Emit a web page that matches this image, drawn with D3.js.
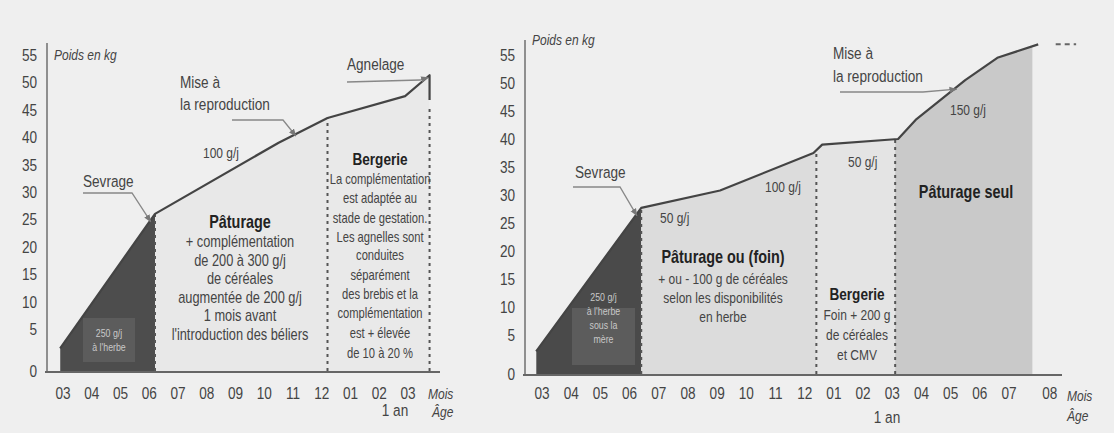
<!DOCTYPE html>
<html>
<head>
<meta charset="utf-8">
<script src="https://cdn.jsdelivr.net/npm/d3@7"></script>
<style>
    body { margin: 0; background: #efefef; }
    svg { display: block; font-family: "Liberation Sans", Arial, sans-serif; }
</style>
</head>
<body>
<svg id="chart" width="1114" height="433"></svg>
<script>
// Tick labels
var yTicks = [0, 5, 10, 15, 20, 25, 30, 35, 40, 45, 50, 55];
var leftMonths = ["03", "04", "05", "06", "07", "08", "09", "10", "11", "12", "01", "02", "03"];
var rightMonths = ["03", "04", "05", "06", "07", "08", "09", "10", "11", "12", "01", "02", "03", "04", "05", "06", "07", "08"];
var rightMonthPos = [0, 1, 2, 3, 4, 5, 6, 7, 8, 9, 10, 11, 12, 13, 14, 15, 16, 17.4];

// Left chart: weight curve (month index from March, kg)
var leftMonth = [-0.1, 3.2, 7.5, 9.2, 11.9, 12.75];
var leftKg = [2.7, 26, 39, 43.5, 47.5, 51.3];
var leftAfterLambing = 46.8;
// phase limits: sevrage, bergerie, agnelage
var leftPhases = [-0.1, 3.2, 9.2, 12.75];

// Right chart: weight curve
var rightMonth = [-0.2, 3.4, 6.1, 9.3, 9.6, 12.2, 12.8, 14.5, 15.6, 17.0];
var rightKg = [2.9, 27.7, 30.8, 37.5, 39, 40, 43.4, 50.5, 54.5, 56.9];
// phase limits: sevrage, bergerie start, bergerie end, end of fill
var rightPhases = [-0.2, 3.4, 9.4, 12.1, 16.8];
var rightTail = [17.6, 18.3];

var svg = d3.select("#chart");
var squeeze = 0.8; // condensed look of the printed font

// Scales (the 0-5 kg step is stretched, like the original)
var xL = d3.scaleLinear().domain([0, 12]).range([63, 408]);
var yL = d3.scaleLinear().domain([0, 5, 55]).range([371, 329, 55]);
var xR = d3.scaleLinear().domain([0, 16]).range([542, 1009]);
var yR = d3.scaleLinear().domain([0, 5, 55]).range([374, 335, 55]);

// weight on the curve at a given month
function kgAt(months, kgs, m) {
    var i = d3.bisectRight(months, m);
    if (i <= 0) return kgs[0];
    if (i >= months.length) return kgs[kgs.length - 1];
    var t = (m - months[i - 1]) / (months[i] - months[i - 1]);
    return kgs[i - 1] + t * (kgs[i] - kgs[i - 1]);
}

// text with a narrow look
function addText(g, x, y, str, anchor, size, style, fill) {
    return g.append("text")
        .attr("transform", "translate(" + x + "," + y + ") scale(" + squeeze + ",1)")
        .attr("text-anchor", anchor || "start")
        .attr("font-size", size || 15)
        .attr("font-weight", style === "b" ? "bold" : null)
        .attr("font-style", style === "i" ? "italic" : null)
        .attr("fill", fill || (style === "b" ? "#222" : "#444"))
        .text(str);
}

// Arrow marker
svg.append("defs").append("marker")
    .attr("id", "arrow")
    .attr("viewBox", "0 0 10 10")
    .attr("refX", 9).attr("refY", 5)
    .attr("markerWidth", 6).attr("markerHeight", 6)
    .attr("orient", "auto")
  .append("path")
    .attr("d", "M0,1 L10,5 L0,9 z")
    .attr("fill", "#777");

function drawChart(opt) {
    var g = svg.append("g");
    var x = opt.x, y = opt.y;
    var pts = opt.months.map(function (m, i) { return { m: m, kg: opt.kgs[i] }; });

    // phase fills, clipped between the phase limits
    var area = d3.area()
        .x(d => x(d.m))
        .y0(y(0))
        .y1(d => y(d.kg));
    opt.fills.forEach(function (col, i) {
        var id = opt.id + "clip" + i;
        var a = opt.phases[i], b = opt.phases[i + 1];
        g.append("clipPath").attr("id", id)
          .append("rect")
            .attr("x", x(a)).attr("y", 0)
            .attr("width", x(b) - x(a)).attr("height", 433);
        g.append("path")
            .attr("d", area(pts))
            .attr("fill", col)
            .attr("clip-path", "url(#" + id + ")");
    });

    // small box in the dark zone
    g.append("rect")
        .attr("x", opt.box[0]).attr("y", opt.box[1])
        .attr("width", opt.box[2]).attr("height", opt.box[3])
        .attr("fill", "#5c5c5c");
    opt.boxText.forEach(function (t, i) {
        addText(g, opt.box[0] + opt.box[2] / 2, opt.boxTextY + i * opt.boxTextStep, t, "middle", 11, null, "#c8c8c8");
    });

    // dashed phase separators
    opt.dashes.forEach(function (d) {
        g.append("line")
            .attr("x1", x(d.m)).attr("x2", x(d.m))
            .attr("y1", y(0)).attr("y2", y(d.top))
            .attr("stroke", "#555")
            .attr("stroke-width", 2)
            .attr("stroke-dasharray", "3,4");
    });

    // weight curve
    var line = d3.line().x(d => x(d.m)).y(d => y(d.kg));
    g.append("path")
        .attr("d", line(pts.concat(opt.extra || [])))
        .attr("fill", "none")
        .attr("stroke", "#444")
        .attr("stroke-width", 2.2)
        .attr("stroke-linejoin", "round");

    // axes
    g.append("line")
        .attr("x1", opt.axisX).attr("x2", opt.axisX)
        .attr("y1", opt.axisTop).attr("y2", y(0) + 1)
        .attr("stroke", "#777").attr("stroke-width", 1.6);
    g.append("line")
        .attr("x1", opt.axisX - 2).attr("x2", opt.axisEnd)
        .attr("y1", y(0) + 1).attr("y2", y(0) + 1)
        .attr("stroke", "#666").attr("stroke-width", 2.2);

    yTicks.forEach(function (v) {
        addText(g, opt.axisX - 10, y(v) + 6, v, "end", 17);
    });
    opt.monthLabels.forEach(function (t, i) {
        addText(g, x(opt.monthPos[i]), opt.monthY, t, "middle", 17);
    });

    // texts
    opt.texts.forEach(function (t) {
        addText(g, t[0], t[1], t[2], t[3], t[4], t[5]);
    });

    // leaders with arrows
    opt.leaders.forEach(function (l) {
        var p = "M" + l.from.map(function (q) { return q.join(","); }).join("L") +
            "L" + x(l.m) + "," + (y(kgAt(opt.months, opt.kgs, l.m)) + (l.dy || 0));
        g.append("path")
            .attr("d", p)
            .attr("fill", "none")
            .attr("stroke", "#888")
            .attr("stroke-width", 1.3)
            .attr("marker-end", "url(#arrow)");
    });
    return g;
}

// Left chart
drawChart({
    id: "L", x: xL, y: yL,
    months: leftMonth, kgs: leftKg,
    extra: [{ m: leftMonth[leftMonth.length - 1], kg: leftAfterLambing }],
    phases: leftPhases,
    fills: ["#4d4d4d", "#e8e8e8", "#e9e9e9"],
    box: [83, 318, 52, 44], boxText: ["250 g/j", "à l'herbe"], boxTextY: 337, boxTextStep: 14,
    dashes: [
        { m: leftPhases[1], top: leftKg[1] },
        { m: leftPhases[2], top: leftKg[3] },
        { m: leftPhases[3], top: leftAfterLambing - 1.5 }
    ],
    axisX: 47, axisTop: 43, axisEnd: 440,
    monthLabels: leftMonths, monthPos: d3.range(leftMonths.length), monthY: 399,
    texts: [
        [54, 60, "Poids en kg", "start", 15, "i"],
        [83, 187, "Sevrage", "start", 17],
        [180, 88, "Mise à", "start", 17],
        [180, 110, "la reproduction", "start", 17],
        [203, 158, "100 g/j", "start", 15],
        [347, 70, "Agnelage", "start", 17],
        [240, 228, "Pâturage", "middle", 18, "b"],
        [240, 247, "+ complémentation", "middle", 16],
        [240, 266, "de 200 à 300 g/j", "middle", 16],
        [240, 284, "de céréales", "middle", 16],
        [240, 303, "augmentée de 200 g/j", "middle", 16],
        [240, 321, "1 mois avant", "middle", 16],
        [240, 340, "l'introduction des béliers", "middle", 16],
        [380, 165, "Bergerie", "middle", 17, "b"],
        [380, 184, "La complémentation", "middle", 14],
        [380, 203, "est adaptée au", "middle", 14],
        [380, 223, "stade de gestation.", "middle", 14],
        [380, 242, "Les agnelles sont", "middle", 14],
        [380, 260, "conduites", "middle", 14],
        [380, 280, "séparément", "middle", 14],
        [380, 299, "des brebis et la", "middle", 14],
        [380, 318, "complémentation", "middle", 14],
        [380, 338, "est + élevée", "middle", 14],
        [380, 358, "de 10 à 20 %", "middle", 14],
        [395, 416, "1 an", "middle", 17],
        [428, 399, "Mois", "start", 15, "i"],
        [432, 417, "Âge", "start", 15, "i"]
    ],
    leaders: [
        { from: [[83, 193], [132, 193]], m: 3.05, dy: 2 },
        { from: [[232, 120], [283, 120]], m: 8.1, dy: 2 },
        { from: [[347, 82], [420, 80]], m: 12.7, dy: 1 }
    ]
});

// Right chart
drawChart({
    id: "R", x: xR, y: yR,
    months: rightMonth, kgs: rightKg,
    phases: rightPhases,
    fills: ["#4a4a4a", "#dcdcdc", "#e4e4e4", "#c9c9c9"],
    box: [572, 308, 63, 57], boxText: ["250 g/j", "à l'herbe", "sous la", "mère"], boxTextY: 301, boxTextStep: 14,
    dashes: [
        { m: rightPhases[1], top: rightKg[1] },
        { m: rightPhases[2], top: kgAt(rightMonth, rightKg, rightPhases[2]) },
        { m: rightPhases[3], top: kgAt(rightMonth, rightKg, rightPhases[3]) }
    ],
    axisX: 525, axisTop: 40, axisEnd: 1062,
    monthLabels: rightMonths, monthPos: rightMonthPos, monthY: 399,
    texts: [
        [532, 45, "Poids en kg", "start", 15, "i"],
        [575, 178, "Sevrage", "start", 17],
        [660, 223, "50 g/j", "start", 15],
        [765, 192, "100 g/j", "start", 15],
        [848, 167, "50 g/j", "start", 15],
        [950, 115, "150 g/j", "start", 15],
        [833, 59, "Mise à", "start", 17],
        [833, 82, "la reproduction", "start", 17],
        [966, 198, "Pâturage seul", "middle", 18, "b"],
        [723, 263, "Pâturage ou (foin)", "middle", 18, "b"],
        [723, 284, "+ ou - 100 g de céréales", "middle", 15],
        [723, 303, "selon les disponibilités", "middle", 15],
        [723, 322, "en herbe", "middle", 15],
        [857, 300, "Bergerie", "middle", 17, "b"],
        [857, 320, "Foin + 200 g", "middle", 15],
        [857, 340, "de céréales", "middle", 15],
        [857, 360, "et CMV", "middle", 15],
        [887, 423, "1 an", "middle", 17],
        [1067, 401, "Mois", "start", 15, "i"],
        [1067, 421, "Âge", "start", 15, "i"]
    ],
    leaders: [
        { from: [[573, 187], [620, 187]], m: 3.25, dy: 2 },
        { from: [[840, 92], [923, 92]], m: 14.2, dy: 2 }
    ]
});

// dashed continuation after the end of the right curve
svg.append("line")
    .attr("x1", xR(rightTail[0])).attr("x2", xR(rightTail[1]))
    .attr("y1", yR(rightKg[rightKg.length - 1])).attr("y2", yR(rightKg[rightKg.length - 1]))
    .attr("stroke", "#666").attr("stroke-width", 2)
    .attr("stroke-dasharray", "5,4");
</script>
</body>
</html>
